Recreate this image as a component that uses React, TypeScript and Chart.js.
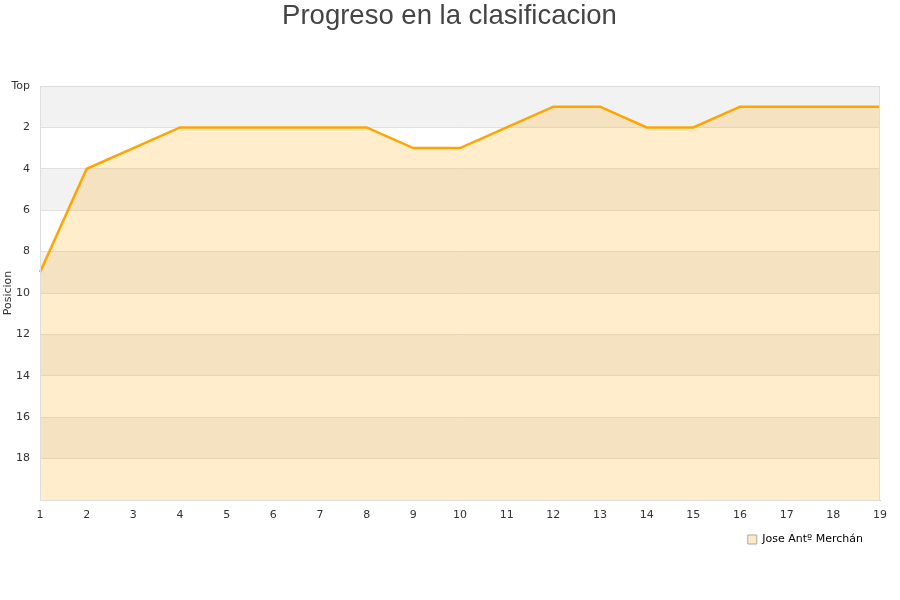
import React, { useEffect, useRef } from "react";
import { Chart, registerables } from "chart.js";

Chart.register(...registerables);

const jornadas: string[] = ["1","2","3","4","5","6","7","8","9","10","11","12","13","14","15","16","17","18","19"];
const posiciones: number[] = [9, 4, 3, 2, 2, 2, 2, 2, 3, 3, 2, 1, 1, 2, 2, 1, 1, 1, 1];
const seriesName = "Jose Antº Merchán";
const titleText = "Progreso en la clasificacion";
const yTitle = "Posicion";

const bandsPlugin = {
  id: "bands",
  afterLayout(chart: any) {
    if (chart.legend) {
      chart.legend.right = chart.legend.right - 7;
    }
    if (chart.titleBlock) {
      chart.titleBlock.left = 0;
      chart.titleBlock.right = 899;
      chart.titleBlock.width = 899;
    }
  },
  beforeDraw(chart: any) {
    const { ctx, chartArea, scales } = chart;
    const y = scales.y;
    ctx.save();
    ctx.fillStyle = "#f2f2f2";
    for (let v = 0; v < 20; v += 4) {
      const a = y.getPixelForValue(v);
      const b = y.getPixelForValue(v + 2);
      ctx.fillRect(chartArea.left, Math.min(a, b), chartArea.right - chartArea.left, Math.abs(b - a));
    }
    ctx.restore();
  },
  afterDraw(chart: any) {
    const { ctx, chartArea } = chart;
    ctx.save();
    ctx.strokeStyle = "#dddddd";
    ctx.lineWidth = 1;
    ctx.strokeRect(chartArea.left + 0.5, chartArea.top + 0.5, chartArea.right - chartArea.left - 1, chartArea.bottom - chartArea.top);
    ctx.restore();
  },
};

export default function App() {
  const ref = useRef<HTMLCanvasElement | null>(null);
  useEffect(() => {
    if (!ref.current) return;
    const chart = new Chart(ref.current, {
      type: "line",
      data: {
        labels: jornadas,
        datasets: [
          {
            label: seriesName,
            data: posiciones,
            borderColor: "#ffa500",
            backgroundColor: "rgba(255,165,0,0.2)",
            borderWidth: 2.5,
            pointRadius: 0,
            fill: { value: 20 },
            tension: 0,
          },
        ],
      },
      options: {
        animation: false,
        responsive: false,
        layout: { padding: { left: 0, right: 20, top: 0, bottom: 45 } },
        plugins: {
          title: {
            display: true,
            text: titleText,
            color: "#444444",
            font: { family: "'Liberation Sans', Arial, sans-serif", size: 27.5, weight: "normal" },
            padding: { top: 0, bottom: 53 },
          },
          legend: {
            display: true,
            position: "bottom",
            align: "end",
            labels: {
              boxWidth: 9,
              boxHeight: 9,
              color: "#000000",
              font: { family: "'DejaVu Sans', sans-serif", size: 11 },
              padding: 10,
              generateLabels: (ch: any) =>
                Chart.defaults.plugins.legend.labels.generateLabels(ch).map((l: any) => ({
                  ...l,
                  fillStyle: "#ffe9c4",
                  strokeStyle: "#a8a8a8",
                  lineWidth: 1,
                })),
            },
          },
          tooltip: { enabled: false },
        },
        scales: {
          x: {
            type: "category",
            offset: false,
            grid: { display: false, drawTicks: false },
            border: { display: true, color: "#cccccc" },
            ticks: {
              color: "#333333",
              font: { family: "'DejaVu Sans', sans-serif", size: 11 },
              padding: 9,
              maxRotation: 0,
              autoSkip: false,
            },
            afterFit(s: any) { s.height = 24; },
          },
          y: {
            type: "linear",
            reverse: true,
            min: 0,
            max: 20,
            grid: { color: "#e0e0e0", drawTicks: false },
            border: { display: true, color: "#cccccc" },
            ticks: {
              stepSize: 2,
              color: "#333333",
              font: { family: "'DejaVu Sans', sans-serif", size: 11 },
              padding: 10,
              callback: (v: any) => (v === 0 ? "Top" : v === 20 ? "" : String(v)),
            },
            title: {
              display: true,
              text: yTitle,
              color: "#333333",
              font: { family: "'DejaVu Sans', sans-serif", size: 11 },
              padding: 2,
            },
            afterFit(s: any) { s.width = 40; },
          },
        },
      },
      plugins: [bandsPlugin],
    });
    return () => chart.destroy();
  }, []);
  return (
    <div style={{ position: "absolute", left: 0, top: 0, width: 900, height: 600, background: "#fff" }}>
      <canvas ref={ref} width={900} height={600} style={{ width: 900, height: 600 }} />
    </div>
  );
}
